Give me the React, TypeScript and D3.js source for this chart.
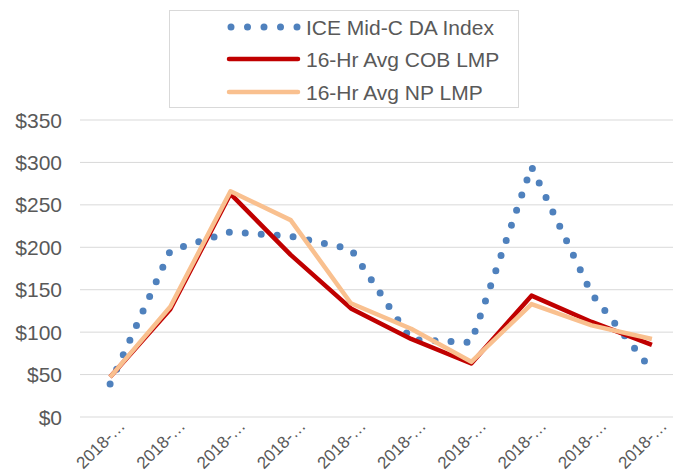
import React, { useEffect, useRef } from 'react';
import * as d3 from 'd3';

// Chart data
const categories = ['2018-…', '2018-…', '2018-…', '2018-…', '2018-…', '2018-…', '2018-…', '2018-…', '2018-…', '2018-…'];
const iceMidC = [39, 196, 218, 213, 198, 91, 88, 295, 145, 55];
const cobLmp = [47, 127, 263, 191, 128, 92, 63, 143, 112, 85];
const npLmp = [47, 130, 266, 232, 134, 104, 65, 133, 108, 92];
const yTicks = [0, 50, 100, 150, 200, 250, 300, 350];
const seriesNames = ['ICE Mid-C DA Index', '16-Hr Avg COB LMP', '16-Hr Avg NP LMP'];

const App = () => {
  const chartRef = useRef<HTMLDivElement | null>(null);

  useEffect(() => {
    const width = 673;
    const height = 474;
    const textColor = '#595959';
    const font = 'Liberation Sans, Arial, sans-serif';

    const svg = d3
      .select(chartRef.current)
      .append('svg')
      .attr('width', width)
      .attr('height', height)
      .style('position', 'absolute')
      .style('left', 0)
      .style('top', 0)
      .style('background', '#fff');

    const idx = categories.map((_, i) => i);
    const xScale = d3.scalePoint<number>().domain(idx).range([80, 682]).padding(0.5);
    const yScale = d3.scaleLinear().domain([0, 350]).range([417, 120]);

    // gridlines
    svg
      .append('g')
      .selectAll('line')
      .data(yTicks)
      .enter()
      .append('line')
      .attr('x1', 80)
      .attr('x2', 673)
      .attr('y1', (d) => yScale(d))
      .attr('y2', (d) => yScale(d))
      .attr('stroke', '#d9d9d9')
      .attr('stroke-width', 1);

    // y labels
    svg
      .append('g')
      .selectAll('text')
      .data(yTicks)
      .enter()
      .append('text')
      .attr('x', 62)
      .attr('y', (d) => yScale(d) + 7.5)
      .attr('text-anchor', 'end')
      .attr('font-family', font)
      .attr('font-size', 21)
      .attr('fill', textColor)
      .text((d) => `$${d}`);

    // x labels, rotated
    svg
      .append('g')
      .selectAll('text')
      .data(idx)
      .enter()
      .append('text')
      .attr('transform', (i) => `translate(${(xScale(i) as number) + 16}, 427) rotate(-45)`)
      .attr('text-anchor', 'end')
      .attr('font-family', font)
      .attr('font-size', 17)
      .attr('fill', textColor)
      .text((i) => categories[i]);

    const line = d3
      .line<number>()
      .x((_, i) => xScale(i) as number)
      .y((d) => yScale(d));

    svg
      .append('path')
      .attr('d', line(iceMidC))
      .attr('fill', 'none')
      .attr('stroke', '#4f81bd')
      .attr('stroke-width', 7)
      .attr('stroke-linecap', 'round')
      .attr('stroke-dasharray', '0 16');

    svg
      .append('path')
      .attr('d', line(cobLmp))
      .attr('fill', 'none')
      .attr('stroke', '#c00000')
      .attr('stroke-width', 4.5)
      .attr('stroke-linejoin', 'round');

    svg
      .append('path')
      .attr('d', line(npLmp))
      .attr('fill', 'none')
      .attr('stroke', '#f9c08f')
      .attr('stroke-width', 4.5)
      .attr('stroke-linejoin', 'round');

    // legend
    const legend = svg.append('g');
    legend
      .append('rect')
      .attr('x', 169.5)
      .attr('y', 10.5)
      .attr('width', 349)
      .attr('height', 97)
      .attr('fill', '#fff')
      .attr('stroke', '#d9d9d9');

    const styles = [
      { stroke: '#4f81bd', width: 7, dash: '0 16.5', cap: 'round' },
      { stroke: '#c00000', width: 4.5, dash: null, cap: 'round' },
      { stroke: '#f9c08f', width: 4.5, dash: null, cap: 'round' },
    ];
    const rowY = [27, 59, 92];
    seriesNames.forEach((name, i) => {
      const s = styles[i];
      legend
        .append('line')
        .attr('x1', i === 0 ? 231 : 229)
        .attr('x2', 298)
        .attr('y1', rowY[i])
        .attr('y2', rowY[i])
        .attr('stroke', s.stroke)
        .attr('stroke-width', s.width)
        .attr('stroke-linecap', s.cap)
        .attr('stroke-dasharray', s.dash);
      legend
        .append('text')
        .attr('x', 306)
        .attr('y', rowY[i] + 7.5)
        .attr('font-family', font)
        .attr('font-size', 21)
        .attr('fill', textColor)
        .text(name);
    });

    return () => {
      svg.remove();
    };
  }, []);

  return <div ref={chartRef}></div>;
};

export default App;
